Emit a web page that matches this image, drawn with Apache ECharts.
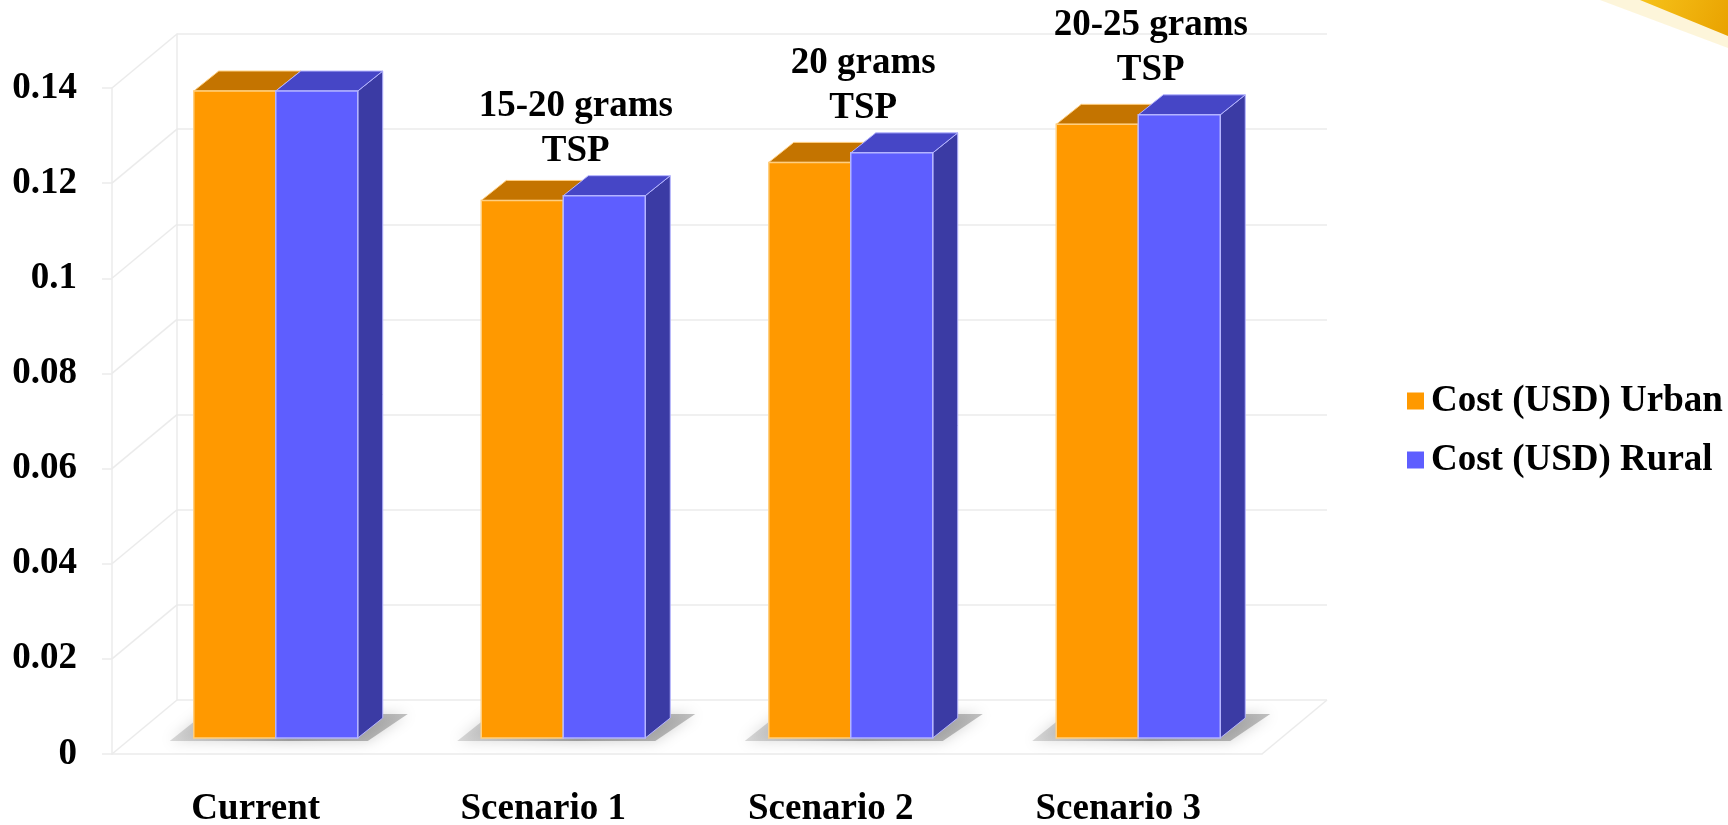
<!DOCTYPE html>
<html>
<head>
<meta charset="utf-8">
<script src="https://cdn.jsdelivr.net/npm/echarts@6.0.0/dist/echarts.min.js"></script>
<style>
html, body { margin: 0; padding: 0; background: #fff; }
#chart { width: 1728px; height: 825px; }
</style>
</head>
<body>
<div id="chart"></div>
<script>
var categories = ['Current', 'Scenario 1', 'Scenario 2', 'Scenario 3'];
var urbanCost = [0.136, 0.113, 0.121, 0.129];
var ruralCost = [0.136, 0.114, 0.123, 0.131];
var barNotes = ['', '15-20 grams\nTSP', '20 grams\nTSP', '20-25 grams\nTSP'];
var yTicks = [0, 0.02, 0.04, 0.06, 0.08, 0.1, 0.12, 0.14];
var seriesNames = ['Cost (USD) Urban', 'Cost (USD) Rural'];

var FONT = '"Liberation Serif", "Times New Roman", serif';
var WALL = [65, -54];   // floor / side wall depth
var DEPTH = [25, -20];  // column depth
var BAR_W = 82;
var GRID_LINE = '#ebebeb';

var colors = {
    urban: { front: '#ff9900', top: '#c47400', side: '#a86300', edge: '#ffcf80' },
    rural: { front: '#5e5eff', top: '#4646c6', side: '#3b3ba4', edge: '#b4b4ff' }
};

function barRenderer(c, side) {
    return function (params, api) {
        var idx = api.value(0);
        var base = api.coord([idx, 0]);
        var top = api.coord([idx, api.value(1)]);
        var x0 = side < 0 ? base[0] - BAR_W : base[0];
        var x1 = x0 + BAR_W;
        var yb = base[1], yt = top[1];
        var dx = DEPTH[0], dy = DEPTH[1];
        var children = [];
        if (side < 0) {
            // soft shadow on the floor under the pair
            children.push({
                type: 'polygon',
                shape: { points: [[x0 - 24, yb + 3], [x1 + BAR_W + 10, yb + 3], [x1 + BAR_W + 50, yb - 24], [x0 + 10, yb - 24]] },
                style: {
                    fill: new echarts.graphic.LinearGradient(0, 0, 1, 0, [
                        { offset: 0, color: 'rgba(150,150,150,0.35)' },
                        { offset: 0.5, color: 'rgba(110,110,110,0.6)' },
                        { offset: 1, color: 'rgba(120,120,120,0.45)' }
                    ]),
                    shadowBlur: 14,
                    shadowColor: 'rgba(0,0,0,0.35)'
                }
            });
        }
        children.push({
            type: 'polygon',
            shape: { points: [[x1, yt], [x1 + dx, yt + dy], [x1 + dx, yb + dy], [x1, yb]] },
            style: { fill: c.side, stroke: c.edge, lineWidth: 1 }
        });
        children.push({
            type: 'polygon',
            shape: { points: [[x0, yt], [x0 + dx, yt + dy], [x1 + dx, yt + dy], [x1, yt]] },
            style: { fill: c.top, stroke: c.edge, lineWidth: 1 }
        });
        children.push({
            type: 'rect',
            shape: { x: x0, y: yt, width: BAR_W, height: yb - yt },
            style: { fill: c.front, stroke: c.edge, lineWidth: 1.5 }
        });
        if (side > 0 && barNotes[idx]) {
            var hi = Math.max(urbanCost[idx], ruralCost[idx]);
            var yHi = api.coord([idx, hi])[1];
            children.push({
                type: 'text',
                style: {
                    text: barNotes[idx],
                    x: base[0] + dx / 2,
                    y: yHi + dy - 2,
                    align: 'center',
                    verticalAlign: 'bottom',
                    font: 'bold 37px ' + FONT,
                    lineHeight: 45,
                    fill: '#000'
                }
            });
        }
        return { type: 'group', children: children };
    };
}

function wallRenderer(params, api) {
    var cs = params.coordSys;
    var v = api.value(1);
    var y = api.coord([0, v])[1];
    var lines = [{
        type: 'line',
        shape: { x1: cs.x, y1: y, x2: cs.x + WALL[0], y2: y + WALL[1] },
        style: { stroke: GRID_LINE, lineWidth: 1.5 }
    }];
    if (v === 0) {
        var xr = cs.x + cs.width;
        lines.push({
            type: 'line',
            shape: { x1: xr, y1: y, x2: xr + WALL[0], y2: y + WALL[1] },
            style: { stroke: GRID_LINE, lineWidth: 1.5 }
        });
    }
    return { type: 'group', children: lines };
}

var labelFont = { fontFamily: FONT, fontWeight: 'bold', fontSize: 37, color: '#000' };

var option = {
    backgroundColor: '#fff',
    animation: false,
    legend: {
        orient: 'vertical',
        left: 1402,
        top: 376,
        icon: 'rect',
        itemWidth: 17,
        itemHeight: 17,
        itemGap: 19,
        data: seriesNames,
        textStyle: Object.assign({ lineHeight: 40, padding: [0, 0, 0, 2] }, labelFont)
    },
    graphic: [{
        type: 'polygon',
        silent: true,
        shape: { points: [[1600, 0], [1728, 0], [1728, 48]] },
        style: { fill: 'rgba(250,225,150,0.35)' }
    }, {
        type: 'polygon',
        silent: true,
        shape: { points: [[1640, 0], [1728, 0], [1728, 36]] },
        style: {
            fill: new echarts.graphic.LinearGradient(0, 0, 1, 1, [
                { offset: 0, color: '#f6c21a' },
                { offset: 1, color: '#e9a200' }
            ])
        }
    }],
    grid: [
        // column plane
        { left: 132, top: 72, width: 1150, height: 666, outerBoundsMode: 'none' },
        // front plane (axis labels)
        { left: 112, top: 88, width: 1150, height: 666, outerBoundsMode: 'none' },
        // back wall
        { left: 177, top: 34, width: 1150, height: 666, outerBoundsMode: 'none' }
    ],
    xAxis: [{
        gridIndex: 0, type: 'category', data: categories, show: false
    }, {
        gridIndex: 1,
        type: 'category',
        data: categories,
        axisLine: { lineStyle: { color: GRID_LINE, width: 1.5 } },
        axisTick: { length: 11, lineStyle: { color: GRID_LINE, width: 1.5 } },
        axisLabel: Object.assign({ margin: 37 }, labelFont)
    }, {
        gridIndex: 2, type: 'category', data: categories, show: false
    }],
    yAxis: [{
        gridIndex: 0, type: 'value', min: 0, max: 0.14, interval: 0.02, show: false
    }, {
        gridIndex: 1,
        type: 'value',
        min: 0,
        max: 0.14,
        interval: 0.02,
        axisLine: { show: true, lineStyle: { color: GRID_LINE, width: 1.5 } },
        axisTick: { show: true, length: 10, lineStyle: { color: GRID_LINE, width: 1.5 } },
        splitLine: { show: false },
        axisLabel: Object.assign({ margin: 35 }, labelFont)
    }, {
        gridIndex: 2,
        type: 'value',
        min: 0,
        max: 0.14,
        interval: 0.02,
        axisLabel: { show: false },
        axisTick: { show: false },
        axisLine: { show: true, lineStyle: { color: GRID_LINE, width: 1.5 } },
        splitLine: { show: true, lineStyle: { color: GRID_LINE, width: 1.5 } }
    }],
    series: [{
        type: 'custom',
        name: 'walls',
        xAxisIndex: 1,
        yAxisIndex: 1,
        silent: true,
        z: 1,
        renderItem: wallRenderer,
        data: yTicks.map(function (v) { return [0, v]; })
    }, {
        type: 'custom',
        name: seriesNames[0],
        xAxisIndex: 0,
        yAxisIndex: 0,
        silent: true,
        z: 3,
        itemStyle: { color: colors.urban.front },
        renderItem: barRenderer(colors.urban, -1),
        data: urbanCost.map(function (v, i) { return [i, v]; })
    }, {
        type: 'custom',
        name: seriesNames[1],
        xAxisIndex: 0,
        yAxisIndex: 0,
        silent: true,
        z: 4,
        itemStyle: { color: colors.rural.front },
        renderItem: barRenderer(colors.rural, 1),
        data: ruralCost.map(function (v, i) { return [i, v]; })
    }]
};

var chart = echarts.init(document.getElementById('chart'));
chart.setOption(option);
</script>
</body>
</html>
